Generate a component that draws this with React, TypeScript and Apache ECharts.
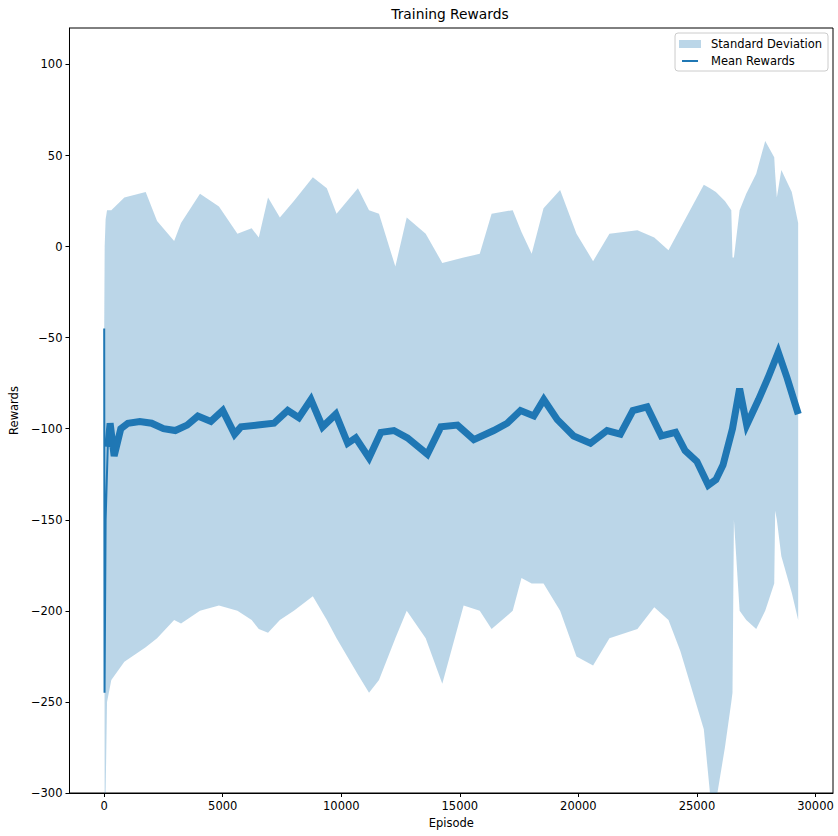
import React, { useEffect, useRef } from "react";
import * as echarts from "echarts";

// ---- Data ----
const meanEpisodes = [
  0, 15, 60, 150, 250, 420, 700, 1000, 1500, 2000, 2500, 3000, 3500, 3950, 4500, 5000,
  5500, 5770, 6475, 7160, 7740, 8210, 8720, 9210, 9770, 10270, 10610, 11170, 11670,
  12220, 12790, 13630, 14200, 14900, 15590, 16430, 17000, 17560, 18120, 18540, 19110,
  19800, 20510, 21210, 21770, 22300, 22900, 23500, 24100, 24500, 25000, 25480, 25800,
  26100, 26500, 26800, 27100, 27600, 28000, 28430, 28800, 29275,
];
const meanRewards = [
  -45, -245, -150, -110, -97, -115, -100, -97, -96, -97, -100, -101, -98, -93, -96, -90,
  -103, -99, -98, -97, -90, -94, -84, -99, -92, -108, -105, -116, -102,
  -101, -105, -114, -99, -98, -106, -101, -97, -90, -93, -84, -95,
  -104, -108, -101, -103, -90, -88, -104, -102, -112, -118, -131, -128,
  -120, -100, -78, -98, -84, -72, -58, -72, -92,
];

const bandEpisodes = [
  0, 20, 60, 120, 300, 850, 1750, 2230, 2950, 3240, 4040, 4840, 5620, 6220, 6520, 6910,
  7410, 8000, 8800, 9390, 9800, 10700, 11170, 11590, 12280, 12760, 13560, 14260, 15160,
  15840, 16340, 17230, 17600, 18030, 18530, 19230, 19920, 20620, 21310, 22490, 23200,
  23800, 24300, 25290, 25550, 25800, 26180, 26450, 26500, 26560, 26800, 27080, 27500,
  27880, 28260, 28300, 28370, 28560, 29000, 29270,
];
const upperStd = [
  -45, 0, 15, 20, 20, 27, 30, 14, 3, 13, 29, 22, 7, 10, 5, 27,
  16, 25, 38, 32, 18, 32, 20, 18, -11, 16, 7, -9, -6,
  -4, 18, 20, 8, -4, 21, 31, 7, -8, 7, 9, 5,
  -2, 10, 34, 32, 30, 25, 20, -6, -6, 20, 29, 40,
  58, 49, 40, 27, 42, 30, 13,
];
const lowerStd = [
  -45, -320, -300, -250, -238, -228, -220, -215, -205, -207, -200, -197, -200, -205, -210, -212,
  -205, -200, -192, -205, -215, -235, -245, -238, -215, -200, -215, -240, -197,
  -200, -210, -200, -182, -185, -185, -200, -225, -230, -215, -210, -198,
  -205, -222, -265, -300, -305, -275, -250, -245, -150, -200, -205, -210,
  -200, -185, -145, -150, -170, -190, -205,
];

const xTicks = [0, 5000, 10000, 15000, 20000, 25000, 30000];
const yTicks = [-300, -250, -200, -150, -100, -50, 0, 50, 100];

const LINE = "#1f77b4";
const BAND = "rgba(31,119,180,0.3)";
const FONT = "DejaVu Sans";
const FS = 11.5;

const fmt = (v: number) => String(v).replace("-", "\u2212");

// thin horizontal line icon for the legend (bounding box 0..10 vertically)
const LINE_ICON =
  "path://M0,0 L0.01,0 L0,0.01 Z M0,3.8 L20,3.8 L20,6.2 L0,6.2 Z M0,10 L0.01,10 L0,9.99 Z";

export default function App() {
  const ref = useRef<HTMLDivElement>(null);

  useEffect(() => {
    if (!ref.current) return;
    const chart = echarts.init(ref.current, undefined, { renderer: "svg" });

    const bandData = bandEpisodes.map((e, i) => [e, lowerStd[i], upperStd[i]]);
    const meanData = meanEpisodes.map((e, i) => [e, meanRewards[i]]);
    // the first few episodes are a single thin stroke; the rest is the dense noisy line
    const meanStart = meanData.slice(0, 5);
    const meanRest = meanData.slice(3);

    chart.setOption({
      animation: false,
      backgroundColor: "#fff",
      title: {
        text: "Training Rewards",
        left: 450,
        top: 7,
        padding: 0,
        textAlign: "center",
        textStyle: { fontSize: 13.8, fontWeight: "normal", color: "#000", fontFamily: FONT },
      },
      legend: {
        orient: "vertical",
        right: 10,
        top: 33,
        padding: [5, 6, 4, 4],
        itemWidth: 22,
        itemHeight: 8,
        itemGap: 5,
        borderColor: "#cccccc",
        borderWidth: 1,
        borderRadius: 3,
        backgroundColor: "rgba(255,255,255,0.8)",
        textStyle: { fontSize: FS, color: "#000", fontFamily: FONT, padding: [0, 0, 0, 5] },
        data: [
          { name: "Standard Deviation", icon: "rect", itemStyle: { color: BAND } },
          { name: "Mean Rewards", icon: LINE_ICON, itemStyle: { color: LINE } },
        ],
      },
      grid: {
        left: 68,
        right: 5,
        top: 28,
        bottom: 43,
        show: true,
        borderColor: "#000",
        borderWidth: 1,
        backgroundColor: "transparent",
      },
      xAxis: {
        type: "value",
        min: -1464,
        max: 30739,
        name: "Episode",
        nameLocation: "middle",
        nameGap: 22,
        nameTextStyle: { fontSize: FS, color: "#000", fontFamily: FONT },
        axisLine: { show: true, onZero: false, lineStyle: { color: "#000", width: 1 } },
        axisTick: { show: true, length: 4, lineStyle: { color: "#000" }, customValues: xTicks },
        axisLabel: {
          color: "#000",
          fontSize: FS,
          fontFamily: FONT,
          margin: 7,
          customValues: xTicks,
          formatter: (v: number) => fmt(v),
        },
        splitLine: { show: false },
      },
      yAxis: {
        type: "value",
        min: -300,
        max: 120,
        name: "Rewards",
        nameLocation: "middle",
        nameGap: 42,
        nameTextStyle: { fontSize: FS, color: "#000", fontFamily: FONT },
        axisLine: { show: true, onZero: false, lineStyle: { color: "#000", width: 1 } },
        axisTick: { show: true, length: 4, lineStyle: { color: "#000" }, customValues: yTicks },
        axisLabel: {
          color: "#000",
          fontSize: FS,
          fontFamily: FONT,
          margin: 7,
          customValues: yTicks,
          formatter: (v: number) => fmt(v),
        },
        splitLine: { show: false },
      },
      series: [
        {
          name: "Standard Deviation",
          type: "custom",
          data: bandData,
          encode: { x: 0, y: [1, 2] },
          itemStyle: { color: BAND },
          clip: true,
          z: 1,
          renderItem: (params: any, api: any) => {
            if (params.dataIndex !== 0) return null;
            const top = bandEpisodes.map((e, i) => api.coord([e, upperStd[i]]));
            const bottom = bandEpisodes.map((e, i) => api.coord([e, lowerStd[i]])).reverse();
            const cs = params.coordSys;
            return {
              type: "polygon",
              shape: { points: top.concat(bottom) },
              style: { fill: BAND, stroke: "none" },
              clipPath: {
                type: "rect",
                shape: { x: cs.x, y: cs.y, width: cs.width, height: cs.height },
              },
            };
          },
        },
        {
          name: "Mean Rewards",
          type: "line",
          data: meanStart,
          symbol: "none",
          z: 3,
          lineStyle: { color: LINE, width: 2 },
          itemStyle: { color: LINE },
        },
        {
          name: "Mean Rewards",
          type: "line",
          data: meanRest,
          symbol: "none",
          z: 3,
          lineStyle: { color: LINE, width: 7, join: "miter" },
          itemStyle: { color: LINE },
        },
      ],
    });

    return () => chart.dispose();
  }, []);

  return (
    <div
      ref={ref}
      style={{ position: "absolute", left: 0, top: 0, width: 838, height: 836 }}
    />
  );
}
